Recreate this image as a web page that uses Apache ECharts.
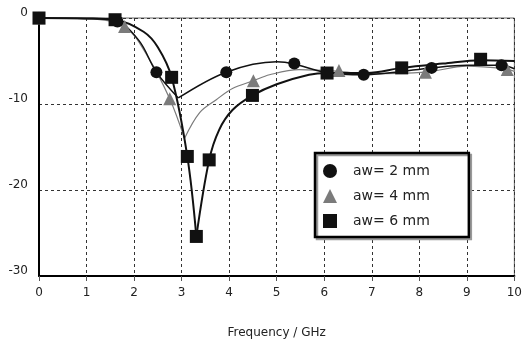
<!DOCTYPE html>
<html><head><meta charset="utf-8">
<script src="https://cdn.jsdelivr.net/npm/echarts/dist/echarts.min.js"></script>
<style>html,body{margin:0;padding:0;background:#fff}#c{width:525px;height:345px}</style>
</head><body><div id="c"></div>
<script>
// Curve traces (frequency GHz, S11 dB), split at the resonance minimum
const aw2Down = [[0,0],[1,-0.05],[1.6,-0.3],[2.1,-2.6],[2.47,-6.3],[2.93,-9.3]];
const aw2Up = [[2.93,-9.3],[3.94,-6.3],[5.0,-5.1],[5.37,-5.35],[6.0,-6.3],[6.83,-6.6],[7.5,-6.3],[8.26,-5.8],[9.0,-5.5],[9.73,-5.5],[10,-5.9]];
const aw4Down = [[0,0],[1,-0.1],[1.8,-1.0],[2.3,-4.6],[2.75,-9.4],[3.06,-14.0]];
const aw4Up = [[3.06,-14.0],[3.38,-11.0],[3.73,-9.5],[4.07,-8.2],[4.51,-7.3],[4.85,-6.6],[5.47,-6.0],[6.31,-6.2],[6.9,-6.5],[8.13,-6.3],[9.0,-5.6],[9.8,-5.9],[10,-6.2]];
const aw6Down = [[0,0],[1,-0.05],[1.6,-0.2],[2.2,-1.6],[2.5,-3.4],[2.79,-6.9],[3.12,-16.1],[3.31,-25.4]];
const aw6Up = [[3.31,-25.4],[3.58,-16.5],[3.79,-13.0],[4.07,-10.7],[4.49,-9.0],[5.0,-7.7],[5.68,-6.6],[6.06,-6.4],[6.9,-6.4],[7.63,-5.8],[8.5,-5.3],[9.29,-4.9],[10,-5.0]];

// Marker points
const aw2Marks = [[0,0],[1.65,-0.4],[2.47,-6.3],[3.94,-6.3],[5.37,-5.3],[6.83,-6.6],[8.26,-5.8],[9.73,-5.5]];
const aw4Marks = [[0,0],[1.8,-1.0],[2.75,-9.4],[4.51,-7.3],[6.31,-6.1],[8.13,-6.3],[9.85,-6.0]];
const aw6Marks = [[0,0],[1.6,-0.2],[2.79,-6.9],[3.12,-16.1],[3.31,-25.4],[3.58,-16.5],[4.49,-9.0],[6.06,-6.4],[7.63,-5.8],[9.29,-4.8]];

const seriesNames = ['aw= 2 mm','aw= 4 mm','aw= 6 mm'];
const xTitle = 'Frequency / GHz';

const FONT = 'DejaVu Sans';
const BLACK = '#111111', GREY = '#7b7b7b';

function lineS(data, color, w) {
  return {type:'line', data, smooth:0.35, showSymbol:false, symbol:'none',
    lineStyle:{color, width:w}, itemStyle:{color}, z:2, silent:true};
}
function markS(name, data, symbol, size, color, z) {
  return {type:'scatter', name, data, symbol, symbolSize:size, itemStyle:{color, opacity:1}, z};
}

const chart = echarts.init(document.getElementById('c'), null, {renderer:'canvas'});
chart.setOption({
  animation:false,
  backgroundColor:'#fff',
  textStyle:{fontFamily:FONT},
  grid:{left:39, right:9, top:18, bottom:69, show:true, borderColor:'#666', borderWidth:1, backgroundColor:'transparent'},
  xAxis:{type:'value', min:0, max:10, interval:1,
    name:xTitle, nameLocation:'middle', nameGap:51,
    nameTextStyle:{fontFamily:FONT, fontSize:12, color:'#222'},
    axisLine:{show:true, onZero:false, lineStyle:{color:'#000', width:2}},
    axisTick:{show:true, length:5, lineStyle:{color:'#555'}},
    axisLabel:{fontFamily:FONT, fontSize:12, color:'#222', margin:11},
    splitLine:{show:true, lineStyle:{color:'#333', type:[3,3], width:1}}},
  yAxis:{type:'value', min:-30, max:0, interval:10,
    axisLine:{show:true, onZero:false, lineStyle:{color:'#000', width:2}},
    axisTick:{show:false},
    axisLabel:{fontFamily:FONT, fontSize:12, color:'#222', margin:11, verticalAlign:'bottom', lineHeight:10},
    splitLine:{show:true, lineStyle:{color:'#333', type:[3,3], width:1}}},
  legend:{
    data:[{name:seriesNames[0], icon:'circle'},{name:seriesNames[1], icon:'triangle'},{name:seriesNames[2], icon:'rect'}],
    orient:'vertical', left:315, top:153, padding:[11,39,9,8],
    itemWidth:14, itemHeight:14, itemGap:11,
    backgroundColor:'#fff', borderColor:'#000', borderWidth:2.5,
    shadowColor:'#999', shadowOffsetX:2, shadowOffsetY:2, shadowBlur:0,
    textStyle:{fontFamily:FONT, fontSize:14, color:'#222', padding:[0,0,0,11]}
  },
  series:[
    lineS(aw4Down, GREY, 1.2), lineS(aw4Up, GREY, 1.2),
    lineS(aw2Down, BLACK, 1.5), lineS(aw2Up, BLACK, 1.5),
    lineS(aw6Down, BLACK, 2), lineS(aw6Up, BLACK, 2),
    markS(seriesNames[0], aw2Marks, 'circle', 12, BLACK, 4),
    markS(seriesNames[1], aw4Marks, 'triangle', 13, GREY, 3),
    markS(seriesNames[2], aw6Marks, 'rect', 13, BLACK, 5)
  ]
});
</script></body></html>
